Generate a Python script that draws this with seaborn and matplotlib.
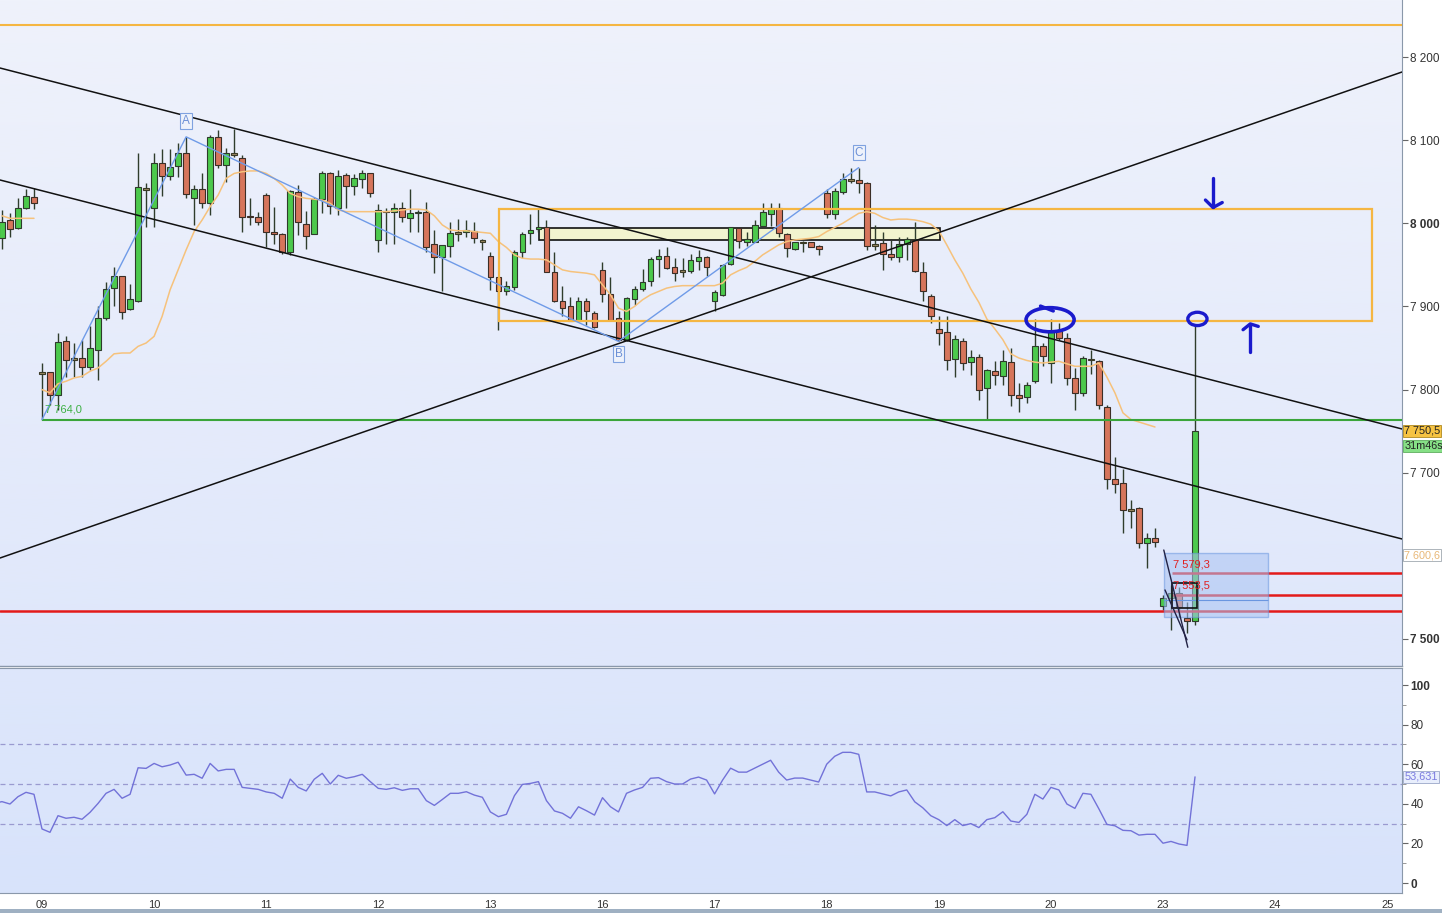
import numpy as np
import pandas as pd
import matplotlib
matplotlib.use("Agg")
import matplotlib.pyplot as plt
from matplotlib.patches import Rectangle, Ellipse
from matplotlib.colors import LinearSegmentedColormap
import seaborn as sns

sns.set_style("white")
plt.rcParams['font.family'] = ['Liberation Sans', 'DejaVu Sans']

# ---------------- data ----------------
first_candle = -5
opens = [7982, 8004, 7994, 8018, 8032,
         7820, 7821, 7793, 7858, 7837, 7838, 7827, 7848, 7886, 7922, 7937, 7897, 7907, 8041,
         8018, 8073, 8057, 8069, 8085, 8031, 8041, 8024, 8104, 8070, 8083, 8079, 8009, 8008,
         8034, 7989, 7987, 7965, 8038, 7999, 7987, 8029, 8060, 8019, 8058, 8045, 8053, 8061,
         7980, 8015, 8014, 8019, 8006, 8012, 8013, 7975, 7959, 7973, 7988, 7989, 7991, 7979,
         7961, 7935, 7919, 7923, 7965, 7988, 7993, 7995, 7942, 7907, 7901, 7883, 7907, 7892,
         7944, 7915, 7886, 7860, 7909, 7921, 7930, 7957, 7961, 7947, 7943, 7943, 7955, 7960,
         7907, 7914, 7951, 7994, 7977, 7978, 7997, 8011, 8019, 7987, 7969, 7977, 7977, 7973,
         8037, 8011, 8038, 8052, 8052, 8049, 7974, 7976, 7963, 7960, 7975, 7980, 7941, 7912,
         7873, 7869, 7837, 7859, 7833, 7839, 7802, 7822, 7816, 7833, 7793, 7791, 7810, 7852,
         7832, 7870, 7862, 7814, 7796, 7836, 7834, 7779, 7692, 7688, 7655, 7657, 7616, 7621,
         7540, 7549, 7555, 7525, 7522]
highs = [8016, 8012, 8031, 8041, 8043,
         7832, 7821, 7868, 7864, 7856, 7860, 7876, 7900, 7929, 7947, 7937, 7927, 8085, 8049,
         8085, 8089, 8089, 8096, 8104, 8046, 8060, 8106, 8112, 8090, 8113, 8082, 8031, 8014,
         8036, 8020, 7988, 8040, 8046, 8015, 8032, 8063, 8062, 8064, 8060, 8059, 8064, 8061,
         8023, 8018, 8024, 8026, 8041, 8016, 8026, 7992, 7974, 8002, 8005, 8004, 8001, 7981,
         7966, 7935, 7930, 7968, 7990, 8011, 8017, 8004, 7966, 7925, 7911, 7911, 7910, 7895,
         7953, 7935, 7894, 7911, 7924, 7945, 7959, 7969, 7971, 7958, 7958, 7963, 7968, 7961,
         7920, 7951, 7995, 7994, 7989, 8004, 8024, 8024, 8024, 7988, 7978, 7979, 7978, 7974,
         8041, 8043, 8060, 8066, 8067, 8050, 7998, 7989, 7980, 7983, 7983, 8001, 7953, 7915,
         7888, 7888, 7866, 7862, 7848, 7843, 7825, 7834, 7848, 7850, 7808, 7809, 7885, 7856,
         7885, 7880, 7868, 7826, 7840, 7848, 7836, 7781, 7719, 7705, 7667, 7659, 7627, 7633,
         7553, 7565, 7563, 7544, 7876]
lows = [7969, 7983, 7993, 8017, 8017,
        7764, 7781, 7775, 7815, 7815, 7815, 7824, 7812, 7884, 7900, 7885, 7896, 7905, 7996,
        7996, 8033, 8052, 8056, 8030, 7998, 8018, 8010, 8066, 8050, 8080, 7990, 7998, 7998,
        7972, 7975, 7963, 7962, 7986, 7969, 7987, 8012, 8011, 8010, 8019, 8034, 8042, 8032,
        7966, 7975, 7975, 8001, 7990, 7990, 7966, 7940, 7918, 7960, 7979, 7984, 7976, 7968,
        7920, 7872, 7914, 7920, 7958, 7975, 7990, 7941, 7905, 7888, 7882, 7882, 7878, 7874,
        7905, 7882, 7858, 7858, 7902, 7918, 7924, 7936, 7945, 7930, 7936, 7940, 7944, 7937,
        7894, 7913, 7950, 7970, 7973, 7978, 7996, 7997, 7983, 7959, 7968, 7965, 7971, 7962,
        8006, 8005, 8035, 8048, 8036, 7968, 7968, 7944, 7956, 7953, 7956, 7942, 7906, 7880,
        7854, 7823, 7815, 7824, 7818, 7788, 7764, 7806, 7806, 7780, 7773, 7784, 7808, 7828,
        7808, 7860, 7806, 7775, 7792, 7819, 7777, 7681, 7675, 7627, 7634, 7609, 7585, 7611,
        7535, 7511, 7527, 7507, 7517]
closes = [8002, 7993, 8019, 8033, 8025,
          7820, 7793, 7857, 7836, 7837, 7827, 7850, 7886, 7921, 7937, 7893, 7909, 8044, 8041,
          8073, 8057, 8068, 8084, 8035, 8041, 8024, 8104, 8070, 8084, 8083, 8008, 8007, 8002,
          7989, 7987, 7965, 8039, 8001, 7985, 8029, 8060, 8021, 8057, 8045, 8054, 8061, 8037,
          8016, 8013, 8018, 8007, 8012, 8014, 7972, 7959, 7974, 7988, 7988, 7992, 7982, 7979,
          7936, 7919, 7924, 7966, 7987, 7992, 7995, 7942, 7907, 7898, 7883, 7907, 7894, 7875,
          7915, 7884, 7860, 7910, 7921, 7929, 7957, 7961, 7946, 7940, 7943, 7956, 7960, 7947,
          7917, 7950, 7995, 7979, 7981, 7998, 8013, 8019, 7988, 7970, 7977, 7977, 7972, 7969,
          8011, 8039, 8053, 8052, 8048, 7973, 7974, 7963, 7959, 7975, 7981, 7943, 7919, 7889,
          7868, 7835, 7861, 7832, 7839, 7800, 7823, 7817, 7834, 7794, 7790, 7806, 7853, 7840,
          7869, 7862, 7814, 7796, 7838, 7836, 7781, 7692, 7687, 7655, 7655, 7616, 7621, 7617,
          7549, 7555, 7539, 7522, 7750.5]

ma_prev_start = -5
ma_prev = [8009, 8006, 8006, 8006, 8006]
ma_start = 0
ma_vals = [7800, 7796, 7807, 7810, 7814, 7816, 7822, 7826, 7834, 7843,
           7844, 7844, 7852, 7856, 7864, 7888, 7920, 7944, 7968, 7990,
           8004, 8020, 8034, 8054, 8060, 8062, 8063, 8063, 8060, 8054,
           8046, 8036, 8032, 8030, 8029, 8028, 8024, 8016, 8014, 8014,
           8014, 8014, 8014, 8014, 8015, 8016, 8017, 8017, 8016, 8009,
           7998, 7992, 7991, 7991, 7990, 7989, 7988, 7978, 7971, 7962,
           7958, 7957, 7957, 7956, 7950, 7944, 7942, 7941, 7940, 7938,
           7926, 7914, 7898, 7894, 7900, 7908, 7914, 7918, 7922, 7924,
           7925, 7925, 7925, 7925, 7925, 7928, 7938, 7943, 7947, 7954,
           7962, 7968, 7974, 7978, 7980, 7981, 7982, 7984, 7990, 7995,
           8000, 8006, 8012, 8014, 8012, 8007, 8004, 8005, 8005, 8004,
           8002, 7999, 7991, 7974, 7956, 7940, 7921, 7905, 7885, 7873,
           7860, 7843, 7838, 7835, 7833, 7832, 7833, 7834, 7831, 7828,
           7828, 7828, 7832, 7815, 7796, 7772, 7764, 7761, 7758, 7755]

rsi_start = -6
rsi_vals = [40.2, 41.1, 39.9, 43.6, 45.8, 44.8,
            27.3, 25.6, 34.0, 32.7, 33.2, 32.2, 35.7, 40.2, 45.3, 47.3,
            42.8, 44.8, 58.2, 57.9, 60.4, 58.7, 59.6, 61.0, 54.5, 54.9,
            52.9, 60.4, 56.6, 57.4, 57.4, 48.3, 47.8, 47.3, 46.0, 45.3,
            42.8, 52.5, 48.3, 46.5, 52.4, 55.4, 50.0, 54.4, 52.9, 53.7,
            54.9, 51.2, 47.8, 47.3, 48.1, 46.8, 47.6, 47.6, 41.6, 39.2,
            42.2, 45.3, 45.3, 46.1, 44.4, 43.3, 35.9, 33.5, 34.7, 44.1,
            49.8, 50.3, 51.2, 41.6, 36.4, 35.2, 32.7, 38.5, 36.5, 34.3,
            43.1, 38.5, 35.9, 45.3, 47.0, 48.3, 52.9, 53.2, 51.2, 50.0,
            50.0, 52.5, 53.5, 52.0, 45.0, 52.0, 58.0, 56.0, 56.0, 58.0,
            60.0, 62.0, 56.0, 52.0, 53.0, 53.0, 52.0, 51.0, 60.0, 64.0,
            66.0, 66.0, 65.0, 46.0, 46.0, 45.0, 44.0, 46.0, 47.0, 41.0,
            38.0, 34.0, 32.0, 29.0, 32.0, 29.0, 30.0, 28.0, 32.0, 33.0,
            36.0, 31.3, 30.6, 34.7, 44.8, 42.4, 48.3, 47.0, 39.9, 37.7,
            45.3, 44.8, 37.4, 29.6, 28.9, 26.6, 26.4, 24.2, 24.6, 24.6,
            20.1, 21.0, 19.7, 19.0, 53.6]

day_labels = ["09", "10", "11", "12", "13", "16", "17", "18", "19", "20", "23", "24", "25"]
day_positions = [0, 14, 28, 42, 56, 70, 84, 98, 112, 126, 140, 154, 168]

price_ticks = [7500, 7700, 7800, 7900, 8000, 8100, 8200]
rsi_ticks = [0, 20, 40, 60, 80, 100]
rsi_levels = [30, 50, 70]

# drawing levels (price / bar-index units)
top_level = 8238.5
support_level = 7764.0
red_low_level = 7533.7
red_level_a = 7579.3
red_level_b = 7553.5
zone_x = (57.1, 166.1)
zone_y = (7882.5, 8017.0)
cons_x = (62.1, 112.15)
cons_y = (7980.0, 7994.0)
chan_x = (-5.245, 169.85)
chan_upper = (8186.8, 7752.6)
chan_lower = (8052.1, 7620.3)
rising_line = (7597.4, 8182.0)
abc_x = [0, 18, 72, 102]
abc_y = [7764, 8104, 7858, 8067]
box_x = (140.1, 153.1)
box_y = (7526.5, 7603.4)

xlim = (-5.245, 169.85)
ylim = (7467.5, 8268.6)
rsi_lim = (-5.05, 108.6)

# ---------------- frames ----------------
df = pd.DataFrame({"idx": np.arange(first_candle, first_candle + len(opens)),
                   "open": opens, "high": highs, "low": lows, "close": closes})
ma_prev_df = pd.DataFrame({"idx": np.arange(ma_prev_start, ma_prev_start + len(ma_prev)), "ma": ma_prev})
ma_df = pd.DataFrame({"idx": np.arange(ma_start, ma_start + len(ma_vals)), "ma": ma_vals})
rsi_df = pd.DataFrame({"idx": np.arange(rsi_start, rsi_start + len(rsi_vals)), "rsi": rsi_vals})

fig = plt.figure(figsize=(14.42, 9.13), dpi=100)
fig.patch.set_facecolor("white")
ax = fig.add_axes([0.0, 247 / 913, 1402 / 1442, 666 / 913])
ax2 = fig.add_axes([0.0, 20 / 913, 1402 / 1442, 225 / 913])

# backgrounds
cm_main = LinearSegmentedColormap.from_list("bgm", ["#dfe7fb", "#eff2fb"])
grad = np.linspace(0, 1, 256).reshape(-1, 1)
ax.imshow(grad, extent=[0, 1, 0, 1], transform=ax.transAxes, origin="lower",
          aspect="auto", cmap=cm_main, zorder=0)
cm_rsi = LinearSegmentedColormap.from_list("bgr", ["#d8e3fb", "#dee7fb"])
ax2.imshow(grad, extent=[0, 1, 0, 1], transform=ax2.transAxes, origin="lower",
           aspect="auto", cmap=cm_rsi, zorder=0)

# ---------------- main panel ----------------
ax.add_patch(Rectangle((cons_x[0], cons_y[0]), cons_x[1] - cons_x[0], cons_y[1] - cons_y[0],
                       facecolor="#f2f4cf", edgecolor="#111111", lw=1.2, zorder=2))

up = df["close"] > df["open"]
down = df["close"] < df["open"]
flat = df["close"] == df["open"]
ax.vlines(df["idx"], df["low"], df["high"], color="#2f3d2c", lw=1.0, zorder=3)
body_w = 0.72
ax.bar(df.loc[up, "idx"], (df.loc[up, "close"] - df.loc[up, "open"]), bottom=df.loc[up, "open"],
       width=body_w, color="#4cc94c", edgecolor="#2e3b2c", linewidth=0.8, zorder=3.2)
ax.bar(df.loc[down, "idx"], (df.loc[down, "open"] - df.loc[down, "close"]), bottom=df.loc[down, "close"],
       width=body_w, color="#d6755b", edgecolor="#3b2e26", linewidth=0.8, zorder=3.2)
ax.bar(df.loc[flat, "idx"], 2.0, bottom=df.loc[flat, "open"] - 1.0,
       width=body_w, color="#9c8b62", edgecolor="#3b3a26", linewidth=0.8, zorder=3.2)

sns.lineplot(data=ma_prev_df, x="idx", y="ma", ax=ax, color="#f6c27c", lw=1.1, zorder=3.5, legend=False)
sns.lineplot(data=ma_df, x="idx", y="ma", ax=ax, color="#f6c27c", lw=1.1, zorder=3.5, legend=False)

ax.axhline(top_level, color="#f5b642", lw=1.5, zorder=4)
ax.hlines(support_level, 0, xlim[1], color="#3aa53a", lw=1.5, zorder=4)
ax.axhline(red_low_level, color="#e31a1a", lw=1.8, zorder=4)
ax.hlines([red_level_a, red_level_b], 141.1, xlim[1], color="#e31a1a", lw=1.8, zorder=4)

ax.add_patch(Rectangle((zone_x[0], zone_y[0]), zone_x[1] - zone_x[0], zone_y[1] - zone_y[0],
                       facecolor="none", edgecolor="#f5b642", lw=1.6, zorder=4))

ax.plot(chan_x, chan_upper, color="#111111", lw=1.1, zorder=4)
ax.plot(chan_x, chan_lower, color="#111111", lw=1.1, zorder=4)
ax.plot(chan_x, rising_line, color="#111111", lw=1.1, zorder=4)

ax.plot(abc_x, abc_y, color="#6f9be8", lw=1.0, zorder=4)
for lbl, lx, ly in [("A", 18, 8123), ("B", 72, 7843), ("C", 102, 8085)]:
    ax.text(lx, ly, lbl, ha="center", va="center", fontsize=8.5, color="#6b8fd6", zorder=6,
            bbox=dict(boxstyle="square,pad=0.15", fc="#eef2fb", ec="#7fa2e0", lw=0.8))

ax.text(0.4, 7770, "7 764,0", fontsize=8, color="#3cb043", ha="left", va="bottom", zorder=6)

ax.add_patch(Rectangle((box_x[0], box_y[0]), box_x[1] - box_x[0], box_y[1] - box_y[0],
                       facecolor="#a9c3f2", alpha=0.55, edgecolor="#6a96e0", lw=1.0, zorder=4.5))
ax.hlines(7547, box_x[0], box_x[1], color="#6a96e0", lw=0.8, zorder=4.6)
ax.add_patch(Rectangle((141.1, 7537.3), 3.1, 30.1, facecolor="none", edgecolor="#111111",
                       lw=1.2, zorder=4.7))
ax.plot([140.1, 143.1], [7607, 7490], color="#222244", lw=1.0, zorder=4.7)
ax.plot([140.25, 143.0], [7559, 7499], color="#222244", lw=1.0, zorder=4.7)
ax.text(141.3, 7584, "7 579,3", fontsize=8, color="#e02020", ha="left", va="bottom", zorder=6)
ax.text(141.3, 7558, "7 553,5", fontsize=8, color="#e02020", ha="left", va="bottom", zorder=6)

blue = "#1a1acc"
ax.add_patch(Ellipse((125.9, 7884), 6.0, 29.0, fill=False, ec=blue, lw=2.6, zorder=6))
ax.plot([124.7, 126.3], [7900.5, 7894.5], color=blue, lw=2.4, zorder=6)
ax.add_patch(Ellipse((144.3, 7885), 2.4, 16.0, fill=False, ec=blue, lw=2.4, zorder=6))
ax.plot([146.25, 146.25], [8054, 8020], color=blue, lw=2.4, zorder=6)
ax.plot([145.3, 146.25, 147.4], [8028, 8019, 8025], color=blue, lw=2.4, zorder=6)
ax.plot([150.9, 150.9], [7845, 7878], color=blue, lw=2.4, zorder=6)
ax.plot([150.0, 150.9, 151.9], [7872, 7879, 7876], color=blue, lw=2.4, zorder=6)

ax.set_xlim(*xlim)
ax.set_ylim(*ylim)
ax.set_xlabel("")
ax.set_ylabel("")
ax.set_xticks([])
ax.yaxis.tick_right()
ax.set_yticks(price_ticks)
ax.set_yticklabels([f"{t // 1000} {t % 1000:03d}" for t in price_ticks])
ax.tick_params(axis="y", direction="out", length=4, width=0.8, color="#666666",
               labelsize=8.5, labelcolor="#333333", pad=2)
for lab, t in zip(ax.get_yticklabels(), price_ticks):
    if t in (8000, 7500):
        lab.set_fontweight("bold")
for s in ["left", "top"]:
    ax.spines[s].set_visible(False)
ax.spines["right"].set_color("#8a98aa")
ax.spines["bottom"].set_color("#8a98aa")
ax.spines["bottom"].set_linewidth(1.0)

tag_font = dict(family=["Liberation Sans", "DejaVu Sans"], fontsize=7.8)
ytr = ax.get_yaxis_transform()
ax.text(1.0015, 7750.5, "7 750,5", transform=ytr, color="#222222", va="center", ha="left",
        bbox=dict(boxstyle="square,pad=0.1", fc="#f6c343", ec="#b08a20", lw=0.6),
        clip_on=False, zorder=7, **tag_font)
ax.text(1.0015, 7732, "31m46s", transform=ytr, color="#222222", va="center", ha="left",
        bbox=dict(boxstyle="square,pad=0.1", fc="#86e086", ec="#5fae5f", lw=0.6),
        clip_on=False, zorder=7, **tag_font)
ax.text(1.0015, 7600.6, "7 600,6", transform=ytr, color="#e8b878", va="center", ha="left",
        bbox=dict(boxstyle="square,pad=0.1", fc="#ffffff", ec="#a0a8b0", lw=0.6),
        clip_on=False, zorder=7, **tag_font)

# ---------------- RSI panel ----------------
for lv in rsi_levels:
    ax2.axhline(lv, color="#9a9ad0", lw=0.9, ls=(0, (4, 3)), zorder=1)
sns.lineplot(data=rsi_df, x="idx", y="rsi", ax=ax2, color="#7272d8", lw=1.0, zorder=3, legend=False)
ax2.set_xlim(*xlim)
ax2.set_ylim(*rsi_lim)
ax2.set_xlabel("")
ax2.set_ylabel("")
ax2.yaxis.tick_right()
ax2.set_yticks(rsi_ticks)
ax2.set_yticks([10, 30, 50, 70, 90], minor=True)
ax2.set_yticklabels([str(t) for t in rsi_ticks])
ax2.tick_params(axis="y", which="major", direction="out", length=4, width=0.8, color="#666666",
                labelsize=8.5, labelcolor="#333333", pad=2)
ax2.tick_params(axis="y", which="minor", direction="out", length=3, width=0.6, color="#888888")
for lab, t in zip(ax2.get_yticklabels(), rsi_ticks):
    if t in (0, 100):
        lab.set_fontweight("bold")
ax2.set_xticks(day_positions)
ax2.set_xticklabels(day_labels)
ax2.tick_params(axis="x", direction="out", length=3, width=0.8, color="#666666",
                labelsize=8, labelcolor="#333333", pad=2)
ax2.spines["left"].set_visible(False)
for s in ["top", "right", "bottom"]:
    ax2.spines[s].set_color("#8a98aa")
ax2.spines["top"].set_linewidth(0.8)
ytr2 = ax2.get_yaxis_transform()
ax2.text(1.0015, 53.631, "53,631", transform=ytr2, color="#7a7ae0", va="center", ha="left",
         bbox=dict(boxstyle="square,pad=0.1", fc="#e8eefc", ec="#9aa6c8", lw=0.6),
         clip_on=False, zorder=7, **tag_font)

fig.patches.append(Rectangle((0, 0), 1, 4 / 913, transform=fig.transFigure,
                             facecolor="#9fb0c2", edgecolor="none"))

fig.savefig("out.png", dpi=100)
